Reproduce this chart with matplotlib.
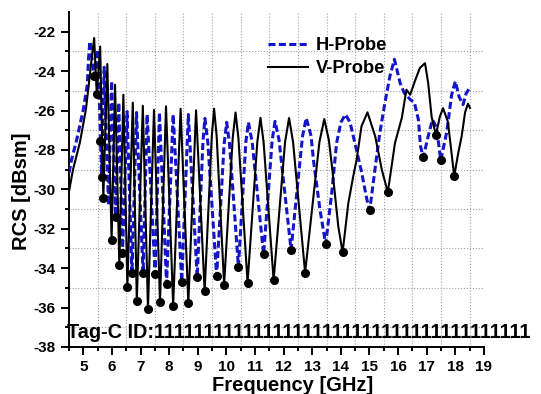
import matplotlib
matplotlib.use("Agg")
import matplotlib.pyplot as plt
from matplotlib.ticker import FixedLocator

plt.rcParams["font.family"] = ["Liberation Sans", "DejaVu Sans"]
plt.rcParams["font.weight"] = "bold"
plt.rcParams["axes.unicode_minus"] = False

# ------------------------------------------------------------------------
# data (frequency in GHz, RCS in dBsm)

h_freq = [4.50, 4.59, 4.77, 5.00, 5.14, 5.18, 5.23, 5.38, 5.51, 5.64, 5.73, 5.88,
          5.99, 6.13, 6.24, 6.37, 6.53, 6.70, 6.86, 7.09, 7.23, 7.51, 7.66, 7.91,
          8.14, 8.44, 8.67, 8.98, 9.18, 9.25, 9.35, 9.66, 9.92, 10.01, 10.11, 10.42,
          10.68, 10.77, 10.90, 11.30, 11.60, 11.70, 11.84, 12.26, 12.66, 12.79, 12.96,
          13.04, 13.27, 13.47, 13.68, 13.85, 14.00, 14.16, 14.32, 14.49, 14.73, 14.91,
          15.01, 15.19, 15.36, 15.54, 15.71, 15.87, 16.07, 16.21, 16.43, 16.57, 16.71,
          16.78, 16.88, 17.05, 17.20, 17.34, 17.49, 17.70, 17.87, 18.00, 18.13, 18.27,
          18.37, 18.49]
h_rcs = [-29.16, -28.5, -27.48, -25.96, -24.69, -23.42, -22.49, -24.26, -22.9, -29.36, -23.8, -30.8,
         -24.5, -31.38, -25.6, -33.24, -26.05, -34.27, -26.1, -34.27, -26.2, -34.3, -26.1, -34.8,
         -26.2, -34.7, -26.2, -34.47, -27.6, -26.4, -27.6, -34.4, -27.7, -26.6, -27.7, -33.93,
         -27.6, -26.6, -27.6, -33.3, -27.5, -26.55, -27.5, -33.07, -27.3, -26.38, -27.3,
         -28.5, -31.04, -32.78, -30.19, -27.65, -26.6, -26.2, -26.6, -27.65, -29.17, -30.53,
         -31.04, -29.0, -27.14, -25.6, -24.27, -23.4, -24.6, -25.1, -25.45, -25.6, -26.47,
         -27.8, -28.38, -27.3, -26.47, -26.85, -28.53, -27.08, -25.2, -24.52, -25.3, -25.7,
         -25.15, -24.87]

v_freq = [4.50, 4.64, 4.88, 5.09, 5.20, 5.29, 5.38, 5.47, 5.59, 5.70, 5.84, 5.99,
          6.11, 6.26, 6.40, 6.54, 6.73, 6.87, 7.08, 7.26, 7.47, 7.68, 7.89, 8.14,
          8.40, 8.67, 8.94, 9.24, 9.49, 9.57, 9.66, 9.92, 10.22, 10.32, 10.42, 10.74,
          11.08, 11.19, 11.30, 11.65, 12.05, 12.19, 12.33, 12.75, 13.25, 13.42, 13.58,
          13.69, 13.91, 14.06, 14.26, 14.43, 14.55, 14.72, 14.93, 15.20, 15.43, 15.64,
          15.89, 16.13, 16.29, 16.42, 16.59, 16.76, 16.94, 17.05, 17.17, 17.32, 17.46,
          17.57, 17.74, 17.96, 18.10, 18.22, 18.34, 18.44, 18.51]
v_rcs = [-30.12, -29.0, -27.63, -25.96, -24.59, -23.4, -22.32, -25.16, -22.75, -30.43, -23.64, -32.56,
         -24.69, -33.83, -25.2, -34.96, -25.6, -35.65, -25.76, -36.08, -25.96, -35.72, -25.79, -35.91,
         -25.91, -35.77, -25.99, -35.18, -27.3, -25.91, -27.3, -34.83, -27.4, -26.10, -27.4, -34.74,
         -27.6, -26.37, -27.6, -34.62, -27.6, -26.38, -27.6, -34.23, -27.6, -26.43, -27.5,
         -28.84, -31.88, -33.2, -30.7, -29.35, -28.5, -26.8, -26.09, -27.31, -29.0, -30.15,
         -27.65, -26.37, -24.94, -25.2, -24.49, -23.84, -23.6, -24.6, -26.31, -27.24, -26.3,
         -25.88, -26.57, -29.33, -28.16, -27.31, -26.09, -25.65, -25.87]

# resonance dips marked with black dots
h_dip_freq = [5.38, 5.58, 5.64, 6.13, 6.37, 6.70, 7.09, 7.51, 7.91, 8.44, 8.98, 9.66,
              10.42, 11.30, 12.26, 13.47, 15.01, 16.88, 17.49]
h_dip_rcs = [-24.26, -27.57, -29.36, -31.38, -33.24, -34.27, -34.27, -34.3, -34.8, -34.7, -34.47, -34.4,
             -33.93, -33.3, -33.07, -32.78, -31.04, -28.38, -28.53]
v_dip_freq = [5.47, 5.70, 5.99, 6.26, 6.54, 6.87, 7.26, 7.68, 8.14, 8.67, 9.24, 9.92,
              10.74, 11.65, 12.75, 14.06, 15.64, 17.32, 17.96]
v_dip_rcs = [-25.16, -30.43, -32.56, -33.83, -34.96, -35.65, -36.08, -35.72, -35.91, -35.77, -35.18, -34.83,
             -34.74, -34.62, -34.23, -33.2, -30.15, -27.24, -29.33]

x_ticks = list(range(5, 20))
y_ticks = list(range(-38, -21, 2))
tag_label = "Tag-C ID:11111111111111111111111111111111111111"

# ------------------------------------------------------------------------

fig = plt.figure(figsize=(5.41, 3.94), dpi=100)
ax = fig.add_axes([0.1275, 0.1193, 0.7671, 0.8502])

ax.plot(h_freq, h_rcs, color="#1414C8", linestyle="--", dashes=(2.3, 1.1),
        linewidth=2.2, label="H-Probe", zorder=3)
ax.plot(v_freq, v_rcs, color="black", linewidth=1.5, label="V-Probe", zorder=4)
ax.plot(h_dip_freq, h_dip_rcs, linestyle="none", marker="o", markersize=5.5,
        color="black", zorder=5)
ax.plot(v_dip_freq, v_dip_rcs, linestyle="none", marker="o", markersize=5.5,
        color="black", zorder=5)

ax.set_xlim(4.5, 19)
ax.set_ylim(-38, -21)
ax.set_xticks(x_ticks)
ax.set_yticks(y_ticks)
ax.xaxis.set_minor_locator(FixedLocator([t + 0.5 for t in x_ticks[:-1]] + [4.5]))
ax.yaxis.set_minor_locator(FixedLocator([t + 1 for t in y_ticks[:-1]]))
ax.grid(which="minor", color="#a0a0a0", linestyle=":", linewidth=0.8)
ax.grid(which="major", visible=False)

for side in ["top", "right"]:
    ax.spines[side].set_visible(False)
for side in ["left", "bottom"]:
    ax.spines[side].set_linewidth(1.4)

ax.tick_params(which="major", direction="out", length=6, width=1.4, labelsize=11)
ax.tick_params(which="minor", direction="out", length=3, width=1.4)
for lab in ax.get_xticklabels() + ax.get_yticklabels():
    lab.set_fontweight("bold")

ax.set_xlabel("Frequency [GHz]", fontsize=14.5, fontweight="bold")
ax.set_ylabel("RCS [dBsm]", fontsize=14.5, fontweight="bold")
ax.xaxis.set_label_coords(0.54, -0.088)
ax.yaxis.set_label_coords(-0.092, 0.466)

ax.text(4.42, -37.53, tag_label, fontsize=14.3, fontweight="bold",
        va="baseline", ha="left", clip_on=False)

ax.legend(loc="upper left", bbox_to_anchor=(0.4795, 0.925), frameon=False,
          fontsize=13.2, handlelength=2.2, handletextpad=0.4, labelspacing=0.33,
          borderpad=0, borderaxespad=0)

fig.savefig("out.png", dpi=100)
